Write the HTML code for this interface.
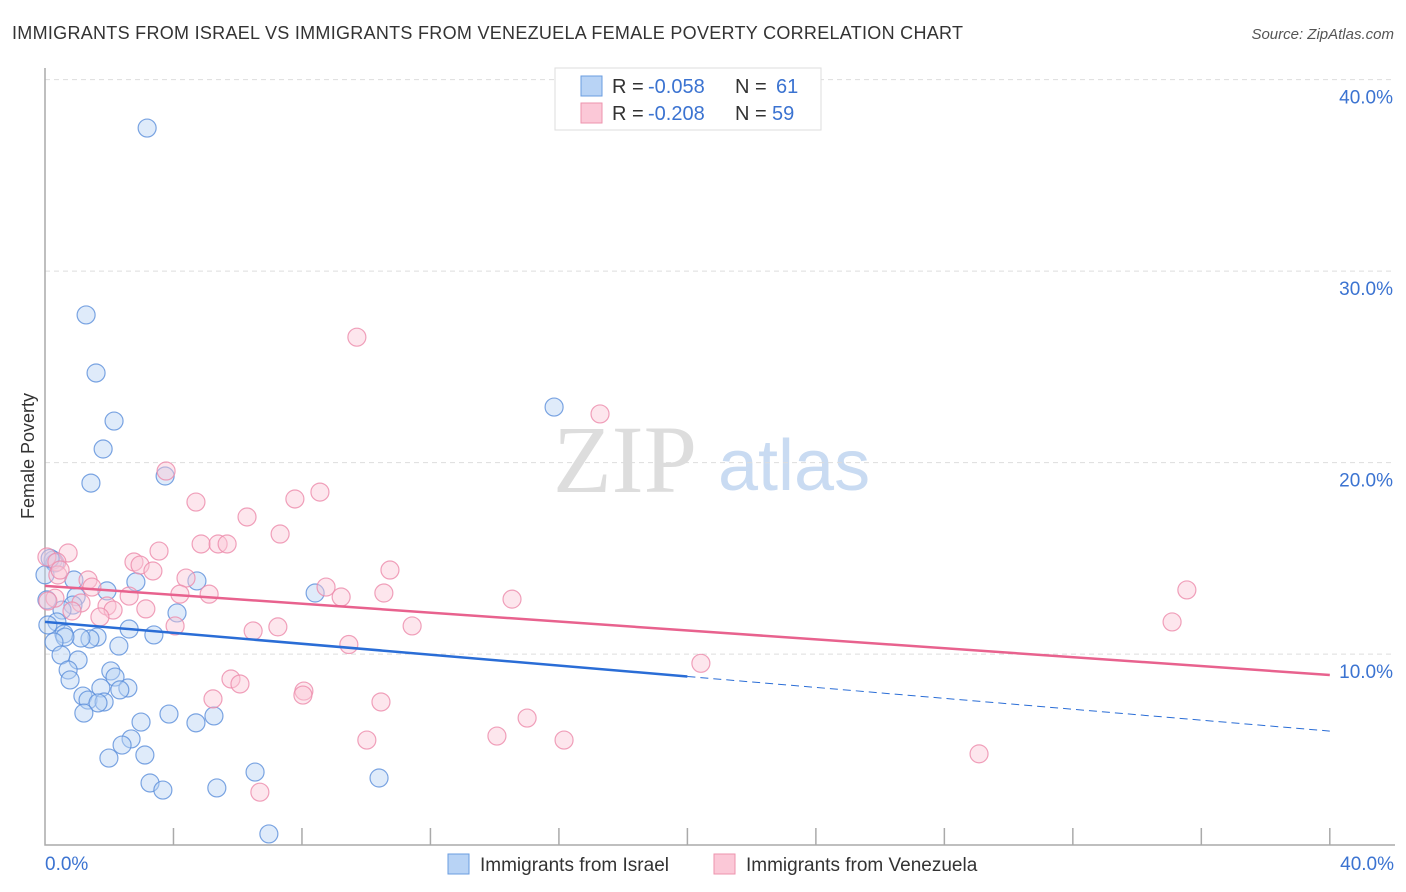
<!DOCTYPE html>
<html><head><meta charset="utf-8"><style>
body{margin:0;background:#fff;font-family:"Liberation Sans",sans-serif;}
svg{display:block}
</style></head><body>
<svg id="c" width="1406" height="892">
<text x="12" y="39" font-size="18" fill="#333" textLength="951" lengthAdjust="spacing">IMMIGRANTS FROM ISRAEL VS IMMIGRANTS FROM VENEZUELA FEMALE POVERTY CORRELATION CHART</text>
<text x="1394" y="39" font-size="15" fill="#555" font-style="italic" text-anchor="end">Source: ZipAtlas.com</text>
<text transform="translate(34,456) rotate(-90)" font-size="18" fill="#333" text-anchor="middle">Female Poverty</text>
<g><text x="553" y="492" font-size="96" font-family="Liberation Serif,serif" fill="#ddd">ZIP</text><text x="718" y="490" font-size="72" fill="#c9dbf2">atlas</text></g>
<g id="grid"></g><g id="axes"></g><g id="pts"></g><g id="lines"></g>
<g>
<rect x="555" y="68" width="266" height="62" fill="#fff" stroke="#ddd"/>
<rect x="581" y="76" width="21" height="20" fill="#b8d3f5" stroke="#6a9de0"/>
<rect x="581" y="103" width="21" height="20" fill="#fbc8d7" stroke="#ee93ae"/>
<text x="612" y="93" font-size="20" fill="#333">R =</text><text x="648" y="93" font-size="20" fill="#3b73d1">-0.058</text>
<text x="735" y="93" font-size="20" fill="#333">N =</text><text x="776" y="93" font-size="20" fill="#3b73d1">61</text>
<text x="612" y="120" font-size="20" fill="#333">R =</text><text x="648" y="120" font-size="20" fill="#3b73d1">-0.208</text>
<text x="735" y="120" font-size="20" fill="#333">N =</text><text x="772" y="120" font-size="20" fill="#3b73d1">59</text>
</g>
<g>
<rect x="448" y="854" width="21" height="20" fill="#b8d3f5" stroke="#6a9de0"/>
<text x="480" y="871" font-size="19" fill="#333">Immigrants from Israel</text>
<rect x="714" y="854" width="21" height="20" fill="#fbc8d7" stroke="#ee93ae"/>
<text x="746" y="871" font-size="19" fill="#333">Immigrants from Venezuela</text>
</g>
<text x="45" y="870" font-size="19" fill="#3b73d1">0.0%</text>
<text x="1394" y="870" font-size="19" fill="#3b73d1" text-anchor="end">40.0%</text>
</svg>
<script>
const yTicks=[10,20,30,40];
const xTicks=[0,4,8,12,16,20,24,28,32,36,40];
const israelX=[3.18,1.28,1.59,2.15,1.81,1.43,3.74,15.85,0.25,0.31,0.90,2.83,1.93,4.73,8.41,0.97,0.87,0.53,4.11,0.37,0.09,2.62,0.59,3.39,1.62,1.40,1.12,0.62,0.28,2.30,0.50,1.03,0.72,2.05,2.18,0.78,1.74,2.58,2.33,1.18,1.34,1.84,1.65,3.86,1.21,5.26,2.99,4.70,2.68,2.40,1.99,3.11,6.54,10.40,3.27,3.67,5.35,6.97,0,0.06,0.16];
const israelY=[37.47,27.71,24.68,22.17,20.71,18.93,19.30,22.90,14.91,14.76,13.87,13.77,13.30,13.82,13.19,13.00,12.56,12.30,12.15,11.68,11.52,11.31,11.05,11.00,10.89,10.79,10.84,10.89,10.63,10.42,9.95,9.69,9.17,9.12,8.80,8.65,8.23,8.23,8.13,7.81,7.60,7.50,7.45,6.87,6.92,6.77,6.45,6.41,5.57,5.25,4.57,4.73,3.84,3.53,3.27,2.90,3.01,0.61,14.14,12.83,15.00];
const venX=[9.71,17.28,3.77,4.70,8.56,7.78,6.29,7.32,4.86,5.39,5.67,3.55,0.72,0.06,0.37,2.77,2.96,10.74,3.36,0.40,4.39,1.34,8.75,1.46,10.55,5.11,4.20,9.22,14.54,2.62,0.31,1.12,1.93,0.09,2.12,3.14,0.84,1.71,35.55,35.09,11.43,4.05,7.25,6.48,9.46,20.42,5.79,6.07,8.06,8.03,5.23,10.46,15.01,14.07,10.02,16.16,29.08,6.69,0.47];
const venY=[26.55,22.54,19.56,17.94,18.46,18.10,17.16,16.27,15.75,15.75,15.75,15.38,15.28,15.07,14.81,14.81,14.65,14.39,14.34,14.13,13.97,13.87,13.50,13.50,13.19,13.13,13.13,12.98,12.87,13.03,12.92,12.67,12.51,12.77,12.30,12.36,12.25,11.94,13.35,11.68,11.47,11.47,11.42,11.21,10.50,9.52,8.70,8.44,8.07,7.86,7.66,7.50,6.66,5.72,5.51,5.51,4.79,2.79,14.39];
const israelTrend=[11.68,5.98];
const venTrend=[13.56,8.91];
const sx=v=>45+v*32.12, sy=v=>845.6-v*19.15;
const NS='http://www.w3.org/2000/svg';
function mk(p,t,a){const e=document.createElementNS(NS,t);for(const k in a)e.setAttribute(k,a[k]);p.appendChild(e);return e;}
const grid=document.getElementById('grid'),axes=document.getElementById('axes'),pts=document.getElementById('pts'),lines=document.getElementById('lines');
yTicks.forEach(t=>{
 const l=mk(grid,'line',{x1:45,x2:1395,y1:sy(t),y2:sy(t),stroke:'#ddd','stroke-dasharray':'5,4'});
 
 
 const tx=mk(grid,'text',{x:1393,y:sy(t)+24,'font-size':19,fill:'#3b73d1','text-anchor':'end'});
 tx.textContent=t.toFixed(1)+'%';
 
 
});
const ax=mk(axes,'path',{d:'M45,68V845H1395',fill:'none',stroke:'#aaa','stroke-width':1.5});


xTicks.slice(1).forEach(t=>{
 const l=mk(axes,'line',{x1:sx(t),x2:sx(t),y1:828,y2:845,stroke:'#aaa','stroke-width':1.5});
 
 
});
function drawPts(X,Y,fill,stroke,name){X.forEach((x,i)=>{
 const c=mk(pts,'circle',{cx:sx(x),cy:sy(Y[i]),r:9,fill:fill,'fill-opacity':0.45,stroke:stroke,'stroke-opacity':0.8,'stroke-width':1.2});
 
 
});}
drawPts(israelX,israelY,'#b8d3f5','#5b8fdb','israel-point');
drawPts(venX,venY,'#fbc8d7','#ec8aaa','venezuela-point');
const by=x=>israelTrend[0]+(israelTrend[1]-israelTrend[0])*x/40;
let l1=mk(lines,'line',{x1:sx(0),y1:sy(by(0)),x2:sx(20),y2:sy(by(20)),stroke:'#2a6dd6','stroke-width':2.5});


let l2=mk(lines,'line',{x1:sx(20),y1:sy(by(20)),x2:sx(40),y2:sy(by(40)),stroke:'#2a6dd6','stroke-width':1,'stroke-dasharray':'8,5'});


let l3=mk(lines,'line',{x1:sx(0),y1:sy(venTrend[0]),x2:sx(40),y2:sy(venTrend[1]),stroke:'#e8628e','stroke-width':2.5});


</script>
</body></html>
